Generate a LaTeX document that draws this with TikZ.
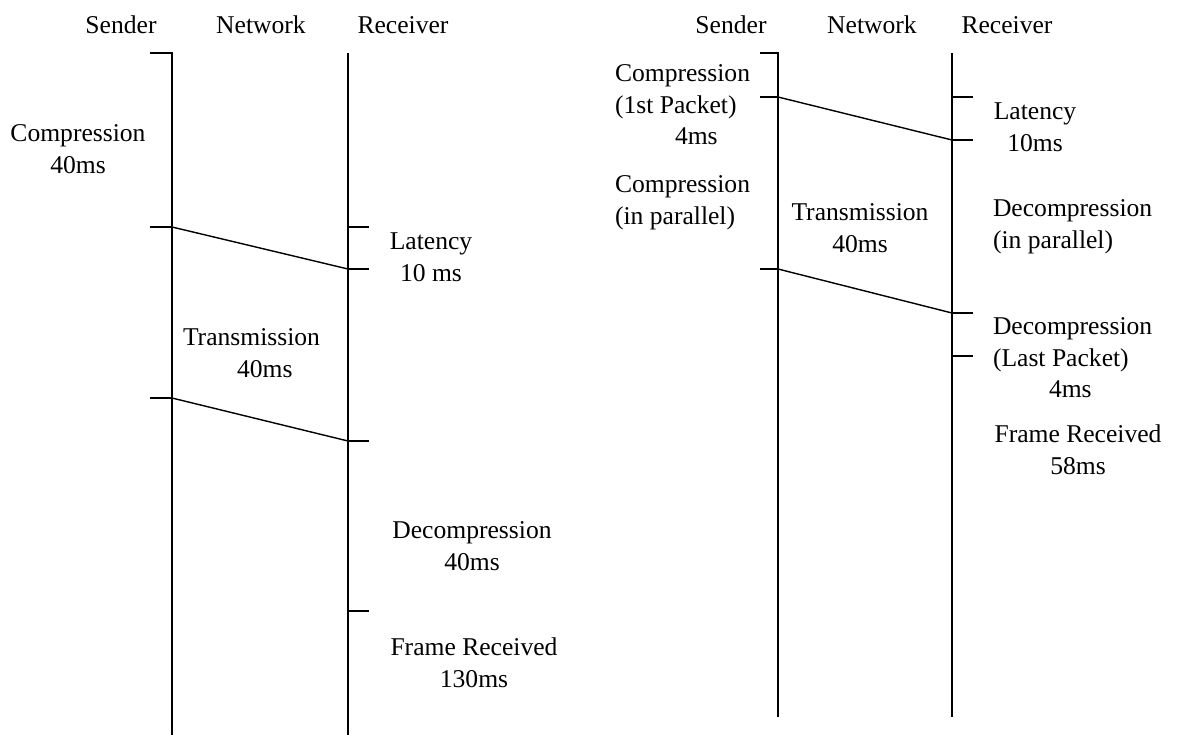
\documentclass[tikz,border=0pt]{standalone}
\usepackage{fontspec}
\setmainfont{Liberation Serif}
\begin{document}
\begin{tikzpicture}[x=0.025cm,y=-0.025cm,inner sep=0pt,outer sep=0pt,line width=1pt,
lbl/.style={font=\fontsize{18.2}{22.5}\selectfont,align=center},
lblleft/.style={lbl,align=left,anchor=west}]
\useasboundingbox (0,0) rectangle (1182,738);
% without packets
\coordinate (sa0) at (172,53); \coordinate (sa1) at (172,227);
\coordinate (sa2) at (172,398); \coordinate (sa9) at (172,735);
\coordinate (ra0) at (348,53); \coordinate (ra1) at (348,227);
\coordinate (ra2) at (348,269); \coordinate (ra3) at (348,441);
\coordinate (ra4) at (348,611); \coordinate (ra9) at (348,735);
\node[lbl] (sendA) at (121,25) {Sender};
\node[lbl] (netA) at (261,25) {Network};
\node[lbl] (recvA) at (403,25) {Receiver};
\draw (sa9) -- (sa0) -- ++(-22,0);
\draw (ra0) -- (ra9);
\draw (sa1) -- ++(-22,0);
\draw (sa2) -- ++(-22,0);
\draw (sa1) -- (ra2);
\draw (sa2) -- (ra3);
\foreach \t in {ra1,ra2,ra3,ra4} \draw (\t) -- ++(21,0);
\node[lbl] (compA) at (78,149) {Compression\\40ms};
\node[lbl] (latA) at (431,257) {Latency\\10 ms};
\node[lblleft] (transA) at (183,353) {Transmission\\\hspace*{1.35cm}40ms};
\node[lbl] (decompA) at (472,546) {Decompression\\40ms};
\node[lbl] (frameA) at (474,663) {Frame Received\\130ms};
% with packets
\coordinate (sb0) at (778,53); \coordinate (sb1) at (778,97);
\coordinate (sb2) at (778,269); \coordinate (sb9) at (778,717);
\coordinate (rb0) at (952,53); \coordinate (rb1) at (952,97);
\coordinate (rb2) at (952,140); \coordinate (rb3) at (952,313);
\coordinate (rb4) at (952,356); \coordinate (rb9) at (952,717);
\node[lbl] (sendB) at (731,25) {Sender};
\node[lbl] (netB) at (872,25) {Network};
\node[lbl] (recvB) at (1007,25) {Receiver};
\draw (sb9) -- (sb0) -- ++(-18,0);
\draw (rb0) -- (rb9);
\draw (sb1) -- ++(-18,0);
\draw (sb2) -- ++(-18,0);
\draw (sb1) -- (rb2);
\draw (sb2) -- (rb3);
\foreach \t in {rb1,rb2,rb3,rb4} \draw (\t) -- ++(21,0);
\node[lblleft] (compB) at (615,105) {Compression\\(1st Packet)\\\hspace*{1.5cm}4ms};
\node[lbl] (latB) at (1035,127) {Latency\\10ms};
\node[lblleft] (parB) at (615,203) {Compression\\(in parallel)};
\node[lbl] (transB) at (860,228) {Transmission\\40ms};
\node[lblleft] (dparB) at (993,227) {Decompression\\(in parallel)};
\node[lblleft] (decompB) at (993,358) {Decompression\\(Last Packet)\\\hspace*{1.4cm}4ms};
\node[lbl] (frameB) at (1078,450) {Frame Received\\58ms};
\end{tikzpicture}
\end{document}
